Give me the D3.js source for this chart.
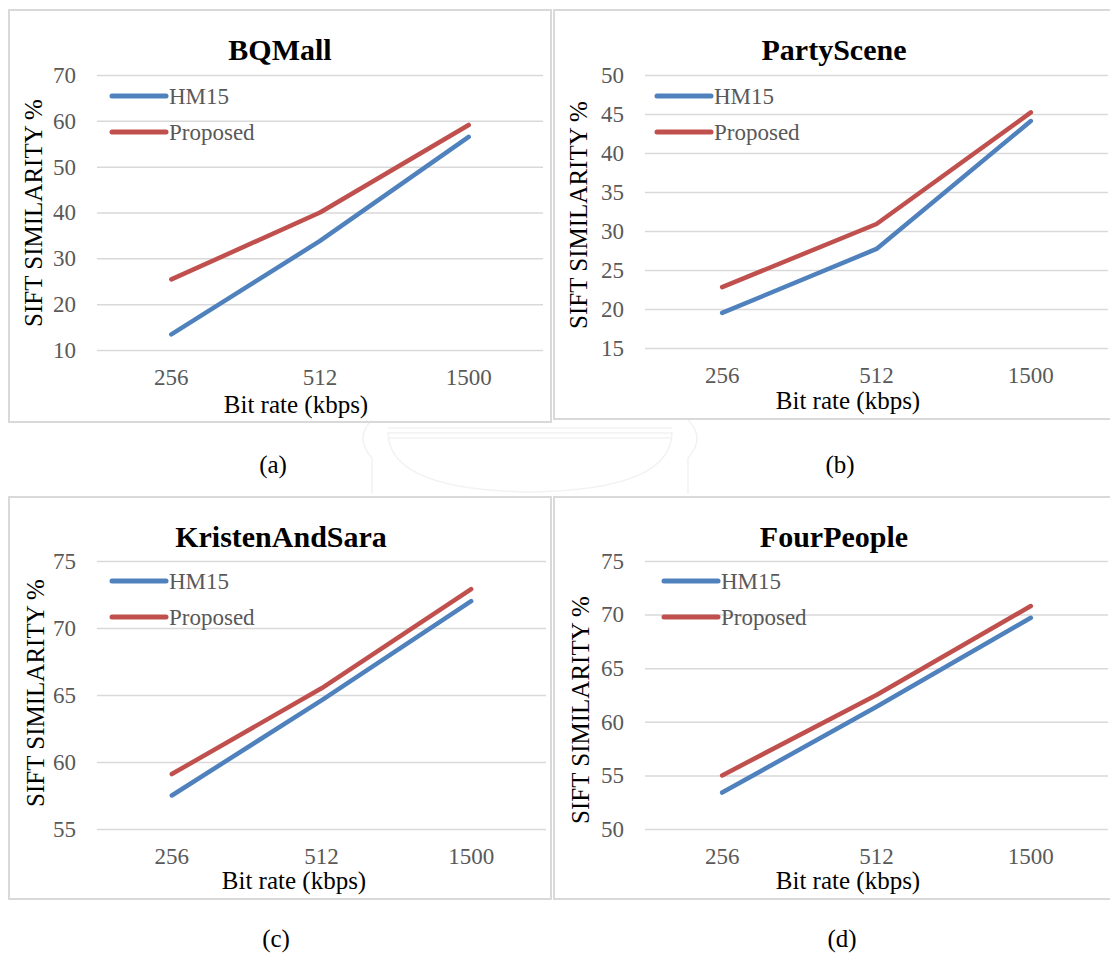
<!DOCTYPE html>
<html>
<head>
<meta charset="utf-8">
<script src="https://cdn.jsdelivr.net/npm/d3@7"></script>
<style>
  body { margin: 0; background: #fff; }
  svg text { font-family: 'Liberation Serif', 'Times New Roman', serif; }
</style>
</head>
<body>
<svg id="chart"></svg>
<script>
/// data ////////////////////////////////
const categories = ['256', '512', '1500']
const titles = ['BQMall', 'PartyScene', 'KristenAndSara', 'FourPeople']
const captions = ['(a)', '(b)', '(c)', '(d)']
const seriesNames = ['HM15', 'Proposed']

const hm15 = [
  [13.4, 33.8, 56.5],
  [19.5, 27.7, 44.1],
  [57.5, 64.6, 72.0],
  [53.4, 61.4, 69.7]
]
const proposed = [
  [25.4, 40.0, 59.1],
  [22.8, 30.9, 45.2],
  [59.1, 65.5, 72.9],
  [55.0, 62.5, 70.8]
]
const yTicks = [
  [10, 20, 30, 40, 50, 60, 70],
  [15, 20, 25, 30, 35, 40, 45, 50],
  [55, 60, 65, 70, 75],
  [50, 55, 60, 65, 70, 75]
]

/// layout (pixel positions per panel) ////
const layout = [
  { box: [9, 10, 551, 422], plot: [97, 75, 543, 350], title: [280, 60], yTitle: [33, 213], legend: [112, 96], xTitle: [296, 413], caption: [273, 473] },
  { box: [554, 10, 1114, 419], plot: [645, 75, 1108, 348], title: [834, 60], yTitle: [578, 215], legend: [657, 96], xTitle: [848, 409], caption: [840, 473] },
  { box: [9, 497, 551, 899], plot: [97, 561, 546, 829], title: [281, 547], yTitle: [35, 693], legend: [112, 581], xTitle: [294, 889], caption: [276, 947] },
  { box: [554, 497, 1114, 899], plot: [645, 561, 1108, 829], title: [834, 547], yTitle: [580, 710], legend: [664, 581], xTitle: [848, 889], caption: [842, 947] }
]

/// colors ////////////////////////////////
const blue = '#4f81bd'
const red = '#c0504d'
const colors = [blue, red]
const gridColor = '#d9d9d9'
const labelColor = '#595959'
const serif = "'Liberation Serif', 'Times New Roman', serif"

const svg = d3
  .select('#chart')
  .attr('width', 1110)
  .attr('height', 955)

/// faint watermark behind the captions ///
const wm = svg.append('g').attr('fill', 'none').attr('stroke', '#f2f2f2').attr('stroke-width', 1.5)
wm.append('path').attr('d', 'M388,432 Q388,490 530,492 Q672,490 672,432')
;[428, 433, 438].forEach(y => {
  wm.append('line').attr('x1', 388).attr('x2', 672).attr('y1', y).attr('y2', y)
})
wm.append('path').attr('d', 'M372,420 q-18,18 0,38 l0,36 M688,420 q18,18 0,38 l0,36')

function drawPanel(i) {
  const L = layout[i]
  const g = svg.append('g').attr('class', 'panel panel-' + i)

  // border
  g.append('rect')
    .attr('x', L.box[0])
    .attr('y', L.box[1])
    .attr('width', L.box[2] - L.box[0])
    .attr('height', L.box[3] - L.box[1])
    .attr('fill', 'none')
    .attr('stroke', gridColor)
    .attr('stroke-width', 2)

  const width = L.plot[2] - L.plot[0]

  const xScale = d3.scaleBand().domain(categories).range([L.plot[0], L.plot[2]])
  const yScale = d3
    .scaleLinear()
    .domain(d3.extent(yTicks[i]))
    .range([L.plot[3], L.plot[1]])

  // y axis with gridlines
  g.append('g')
    .attr('class', 'axis y-axis')
    .attr('transform', 'translate(' + L.plot[0] + ',0)')
    .call(
      d3.axisLeft(yScale)
        .tickValues(yTicks[i])
        .tickSizeInner(-width)
        .tickSizeOuter(0)
        .tickPadding(21)
    )
    .attr('font-family', serif)
    .attr('font-size', 23)
    .call(g => g.select('.domain').remove())
    .call(g => g.selectAll('line').attr('stroke', gridColor).attr('stroke-width', 1.5))
    .call(g => g.selectAll('text').attr('fill', labelColor))

  // x axis
  g.append('g')
    .attr('class', 'axis x-axis')
    .attr('transform', 'translate(0,' + L.plot[3] + ')')
    .call(d3.axisBottom(xScale).tickSize(0).tickPadding(19))
    .attr('font-family', serif)
    .attr('font-size', 23)
    .call(g => g.select('.domain').remove())
    .call(g => g.selectAll('text').attr('fill', labelColor))

  // lines
  const line = d3
    .line()
    .x((d, j) => xScale(categories[j]) + xScale.bandwidth() / 2)
    .y(d => yScale(d))

  ;[hm15[i], proposed[i]].forEach((values, s) => {
    g.append('path')
      .datum(values)
      .attr('d', line)
      .attr('fill', 'none')
      .attr('stroke', colors[s])
      .attr('stroke-width', 4.5)
      .attr('stroke-linecap', 'round')
      .attr('stroke-linejoin', 'round')
  })

  // legend
  seriesNames.forEach((name, s) => {
    const ly = L.legend[1] + s * 36
    g.append('line')
      .attr('x1', L.legend[0])
      .attr('x2', L.legend[0] + 54)
      .attr('y1', ly)
      .attr('y2', ly)
      .attr('stroke', colors[s])
      .attr('stroke-width', 5)
      .attr('stroke-linecap', 'round')
    g.append('text')
      .attr('x', L.legend[0] + 57)
      .attr('y', ly)
      .attr('dy', '0.34em')
      .attr('font-size', 23)
      .attr('fill', labelColor)
      .text(name)
  })

  // title
  g.append('text')
    .attr('x', L.title[0])
    .attr('y', L.title[1])
    .attr('text-anchor', 'middle')
    .attr('font-size', 30)
    .attr('font-weight', 'bold')
    .attr('fill', '#000')
    .text(titles[i])

  // axis titles
  g.append('text')
    .attr('transform', 'translate(' + L.yTitle[0] + ',' + L.yTitle[1] + ') rotate(-90)')
    .attr('text-anchor', 'middle')
    .attr('dy', '0.35em')
    .attr('font-size', 25)
    .attr('fill', '#000')
    .text('SIFT SIMILARITY %')

  g.append('text')
    .attr('x', L.xTitle[0])
    .attr('y', L.xTitle[1])
    .attr('text-anchor', 'middle')
    .attr('font-size', 25)
    .attr('fill', '#000')
    .text('Bit rate (kbps)')

  // caption
  svg.append('text')
    .attr('x', L.caption[0])
    .attr('y', L.caption[1])
    .attr('text-anchor', 'middle')
    .attr('font-size', 25)
    .attr('fill', '#000')
    .text(captions[i])
}

titles.forEach((t, i) => drawPanel(i))
</script>
</body>
</html>
